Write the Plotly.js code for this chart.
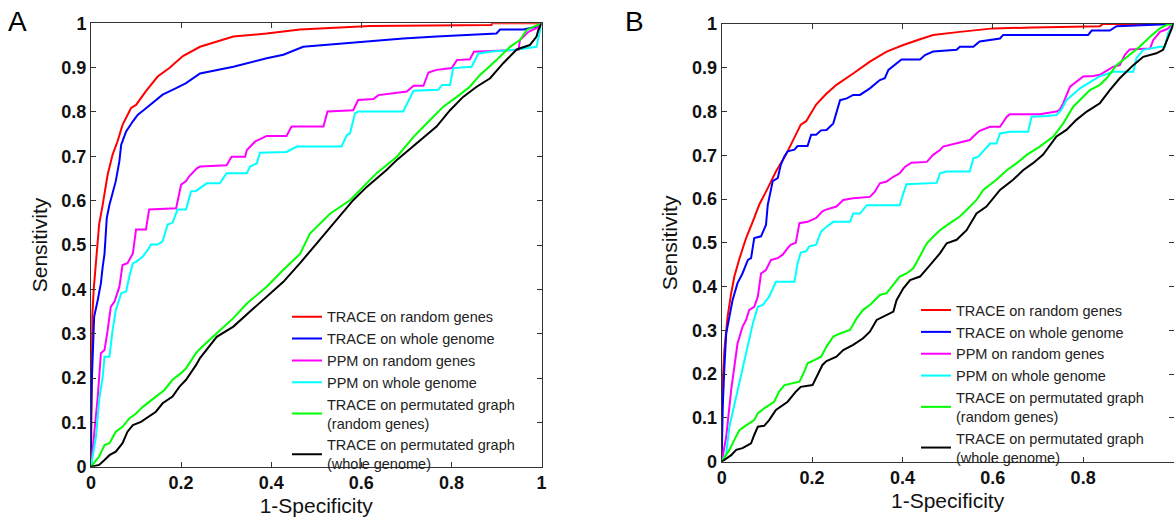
<!DOCTYPE html>
<html><head><meta charset="utf-8">
<script src="https://cdn.plot.ly/plotly-3.0.1.min.js"></script>
<style>html,body{margin:0;padding:0;background:#fff}#chart{width:1174px;height:518px}</style>
</head><body><div id="chart"></div>
<script>
const seriesNames = ["TRACE on random genes", "TRACE on whole genome", "PPM on random genes", "PPM on whole genome", "TRACE on permutated graph<br>(random genes)", "TRACE on permutated graph<br>(whole genome)"];
const seriesColors = ["#ff0000", "#0000ff", "#ff00ff", "#00ffff", "#00ff00", "#000000"];
const panelLabels = ["A", "B"];
const xTitle = "1-Specificity";
const yTitle = "Sensitivity";
const xTickVals = [0, 0.2, 0.4, 0.6, 0.8, 1];
const xTickLabels = ["0", "0.2", "0.4", "0.6", "0.8", "1"];
const yTickVals = [0, 0.1, 0.2, 0.3, 0.4, 0.5, 0.6, 0.7, 0.8, 0.9, 1];
const yTickLabels = ["0", "0.1", "0.2", "0.3", "0.4", "0.5", "0.6", "0.7", "0.8", "0.9", "1"];

// Panel A
const aRedX = [0, 0.001, 0.003, 0.006, 0.011, 0.018, 0.026, 0.037, 0.048, 0.059, 0.070, 0.089, 0.100, 0.122, 0.148, 0.174, 0.204, 0.242, 0.316, 0.39, 0.464, 0.619, 0.889, 0.89, 1];
const aRedY = [0, 0.2, 0.34, 0.4, 0.47, 0.546, 0.591, 0.659, 0.704, 0.734, 0.771, 0.809, 0.816, 0.847, 0.880, 0.899, 0.926, 0.947, 0.970, 0.977, 0.986, 0.994, 0.996, 1, 1];
const aBlueX = [0, 0, 0.002, 0.004, 0.007, 0.015, 0.022, 0.026, 0.030, 0.035, 0.041, 0.055, 0.063, 0.067, 0.078, 0.093, 0.104, 0.118, 0.137, 0.159, 0.189, 0.211, 0.242, 0.316, 0.39, 0.427, 0.471, 0.545, 0.619, 0.693, 0.767, 0.841, 0.9, 0.908, 0.96, 0.989, 1];
const aBlueY = [0, 0.12, 0.2, 0.278, 0.338, 0.376, 0.414, 0.451, 0.48, 0.561, 0.591, 0.644, 0.689, 0.726, 0.756, 0.779, 0.794, 0.805, 0.820, 0.839, 0.854, 0.865, 0.887, 0.902, 0.921, 0.929, 0.947, 0.953, 0.959, 0.966, 0.970, 0.974, 0.977, 0.986, 0.986, 0.992, 1];
const aMagX = [0, 0.007, 0.015, 0.022, 0.030, 0.037, 0.044, 0.052, 0.063, 0.070, 0.081, 0.093, 0.100, 0.122, 0.129, 0.189, 0.2, 0.211, 0.218, 0.235, 0.242, 0.301, 0.312, 0.342, 0.346, 0.364, 0.39, 0.434, 0.445, 0.516, 0.525, 0.582, 0.593, 0.627, 0.638, 0.701, 0.716, 0.738, 0.749, 0.767, 0.801, 0.812, 0.841, 0.85, 0.908, 0.949, 0.952, 0.971, 0.989, 1];
const aMagY = [0, 0.068, 0.158, 0.256, 0.263, 0.308, 0.361, 0.372, 0.406, 0.455, 0.459, 0.481, 0.535, 0.535, 0.580, 0.583, 0.636, 0.644, 0.655, 0.673, 0.677, 0.68, 0.699, 0.699, 0.714, 0.733, 0.746, 0.746, 0.767, 0.767, 0.801, 0.804, 0.827, 0.829, 0.838, 0.846, 0.859, 0.859, 0.889, 0.895, 0.899, 0.917, 0.919, 0.936, 0.938, 0.940, 0.962, 0.981, 0.989, 1];
const aCyanX = [0, 0.011, 0.018, 0.026, 0.030, 0.041, 0.048, 0.055, 0.067, 0.078, 0.085, 0.093, 0.1, 0.115, 0.126, 0.133, 0.148, 0.159, 0.170, 0.181, 0.192, 0.211, 0.222, 0.233, 0.257, 0.286, 0.301, 0.346, 0.353, 0.368, 0.375, 0.434, 0.457, 0.556, 0.568, 0.575, 0.586, 0.593, 0.693, 0.712, 0.716, 0.771, 0.779, 0.797, 0.804, 0.845, 0.86, 0.886, 0.915, 0.945, 0.989, 0.997, 1];
const aCyanY = [0, 0.068, 0.150, 0.203, 0.248, 0.248, 0.308, 0.353, 0.391, 0.395, 0.429, 0.459, 0.462, 0.474, 0.489, 0.501, 0.501, 0.508, 0.546, 0.550, 0.580, 0.580, 0.621, 0.622, 0.639, 0.639, 0.662, 0.662, 0.677, 0.684, 0.708, 0.710, 0.722, 0.722, 0.748, 0.752, 0.797, 0.801, 0.801, 0.838, 0.848, 0.850, 0.861, 0.861, 0.899, 0.902, 0.932, 0.936, 0.938, 0.941, 0.947, 0.992, 1];
const aGreenX = [0, 0.018, 0.030, 0.041, 0.055, 0.070, 0.085, 0.1, 0.115, 0.129, 0.144, 0.163, 0.181, 0.2, 0.211, 0.233, 0.242, 0.279, 0.316, 0.346, 0.39, 0.427, 0.464, 0.486, 0.531, 0.575, 0.597, 0.634, 0.679, 0.716, 0.745, 0.782, 0.812, 0.841, 0.863, 0.9, 0.930, 0.952, 0.967, 0.989, 1];
const aGreenY = [0, 0.023, 0.049, 0.053, 0.079, 0.090, 0.109, 0.120, 0.135, 0.147, 0.158, 0.173, 0.196, 0.211, 0.222, 0.256, 0.266, 0.301, 0.335, 0.368, 0.406, 0.444, 0.48, 0.526, 0.571, 0.601, 0.624, 0.662, 0.699, 0.744, 0.774, 0.812, 0.834, 0.857, 0.883, 0.917, 0.947, 0.962, 0.985, 0.994, 1];
const aBlackX = [0, 0.018, 0.03, 0.041, 0.055, 0.070, 0.081, 0.093, 0.111, 0.129, 0.144, 0.159, 0.181, 0.196, 0.211, 0.233, 0.242, 0.279, 0.316, 0.353, 0.39, 0.427, 0.464, 0.508, 0.545, 0.582, 0.612, 0.656, 0.679, 0.723, 0.767, 0.797, 0.826, 0.856, 0.886, 0.915, 0.945, 0.974, 0.989, 0.993, 1];
const aBlackY = [0, 0.004, 0.015, 0.026, 0.034, 0.053, 0.079, 0.094, 0.101, 0.113, 0.124, 0.143, 0.158, 0.180, 0.196, 0.229, 0.245, 0.293, 0.316, 0.350, 0.383, 0.417, 0.459, 0.511, 0.556, 0.601, 0.631, 0.669, 0.692, 0.729, 0.767, 0.804, 0.834, 0.857, 0.876, 0.910, 0.941, 0.951, 0.970, 0.985, 1];

// Panel B
const bRedX = [0, 0.002, 0.006, 0.013, 0.021, 0.028, 0.039, 0.054, 0.069, 0.083, 0.102, 0.120, 0.142, 0.161, 0.175, 0.187, 0.209, 0.231, 0.254, 0.291, 0.328, 0.365, 0.402, 0.439, 0.468, 0.527, 0.601, 0.689, 0.837, 0.844, 1];
const bRedY = [0, 0.179, 0.255, 0.331, 0.385, 0.423, 0.463, 0.511, 0.549, 0.587, 0.625, 0.663, 0.701, 0.740, 0.770, 0.778, 0.816, 0.840, 0.861, 0.887, 0.914, 0.937, 0.952, 0.965, 0.975, 0.982, 0.990, 0.992, 0.995, 1, 1];
const bBlueX = [0, 0.002, 0.006, 0.010, 0.017, 0.024, 0.035, 0.046, 0.058, 0.065, 0.072, 0.087, 0.098, 0.102, 0.113, 0.124, 0.131, 0.139, 0.146, 0.161, 0.168, 0.190, 0.198, 0.209, 0.220, 0.232, 0.247, 0.262, 0.277, 0.291, 0.306, 0.328, 0.350, 0.361, 0.369, 0.398, 0.439, 0.450, 0.468, 0.520, 0.527, 0.557, 0.571, 0.616, 0.623, 0.811, 0.819, 0.859, 0.874, 0.944, 1];
const bBlueY = [0, 0.118, 0.217, 0.293, 0.331, 0.369, 0.408, 0.430, 0.461, 0.465, 0.511, 0.515, 0.541, 0.587, 0.641, 0.648, 0.679, 0.698, 0.709, 0.713, 0.721, 0.721, 0.747, 0.747, 0.757, 0.758, 0.773, 0.826, 0.830, 0.838, 0.838, 0.853, 0.872, 0.876, 0.895, 0.919, 0.919, 0.929, 0.937, 0.941, 0.948, 0.948, 0.960, 0.967, 0.975, 0.975, 0.985, 0.985, 0.995, 0.998, 1];
const bMagX = [0, 0.010, 0.021, 0.028, 0.035, 0.046, 0.054, 0.061, 0.072, 0.080, 0.087, 0.098, 0.109, 0.124, 0.135, 0.146, 0.153, 0.164, 0.172, 0.190, 0.209, 0.223, 0.231, 0.254, 0.269, 0.291, 0.328, 0.339, 0.350, 0.365, 0.380, 0.394, 0.406, 0.420, 0.454, 0.468, 0.483, 0.490, 0.520, 0.549, 0.564, 0.571, 0.594, 0.616, 0.631, 0.638, 0.704, 0.741, 0.748, 0.756, 0.771, 0.800, 0.822, 0.837, 0.855, 0.866, 0.881, 0.892, 0.903, 0.948, 0.955, 0.970, 0.985, 1];
const bMagY = [0, 0.057, 0.164, 0.217, 0.270, 0.308, 0.324, 0.347, 0.354, 0.377, 0.430, 0.438, 0.461, 0.465, 0.473, 0.488, 0.496, 0.500, 0.545, 0.548, 0.557, 0.572, 0.576, 0.583, 0.598, 0.602, 0.605, 0.617, 0.636, 0.640, 0.651, 0.659, 0.674, 0.683, 0.685, 0.701, 0.712, 0.720, 0.727, 0.735, 0.750, 0.756, 0.765, 0.765, 0.788, 0.794, 0.794, 0.800, 0.804, 0.819, 0.857, 0.880, 0.881, 0.884, 0.895, 0.902, 0.906, 0.929, 0.942, 0.944, 0.963, 0.982, 0.988, 1];
const bCyanX = [0, 0.010, 0.017, 0.032, 0.046, 0.058, 0.069, 0.080, 0.091, 0.105, 0.120, 0.161, 0.168, 0.175, 0.187, 0.194, 0.209, 0.220, 0.232, 0.247, 0.284, 0.291, 0.306, 0.321, 0.394, 0.402, 0.409, 0.476, 0.483, 0.498, 0.549, 0.557, 0.568, 0.594, 0.608, 0.616, 0.638, 0.678, 0.686, 0.719, 0.741, 0.752, 0.763, 0.793, 0.837, 0.848, 0.866, 0.911, 0.918, 0.933, 0.970, 0.981, 0.988, 1];
const bCyanY = [0, 0.019, 0.080, 0.149, 0.210, 0.263, 0.316, 0.354, 0.358, 0.377, 0.411, 0.411, 0.453, 0.478, 0.481, 0.492, 0.496, 0.526, 0.537, 0.548, 0.548, 0.567, 0.567, 0.586, 0.586, 0.613, 0.634, 0.637, 0.659, 0.663, 0.663, 0.693, 0.697, 0.727, 0.727, 0.750, 0.754, 0.754, 0.788, 0.790, 0.792, 0.804, 0.826, 0.853, 0.881, 0.884, 0.891, 0.891, 0.922, 0.941, 0.948, 0.948, 0.979, 1];
const bGreenX = [0, 0.017, 0.028, 0.039, 0.050, 0.061, 0.072, 0.080, 0.094, 0.116, 0.127, 0.139, 0.157, 0.172, 0.183, 0.190, 0.205, 0.220, 0.232, 0.247, 0.262, 0.284, 0.299, 0.313, 0.328, 0.350, 0.365, 0.380, 0.394, 0.409, 0.424, 0.439, 0.454, 0.468, 0.483, 0.505, 0.527, 0.542, 0.564, 0.579, 0.608, 0.631, 0.653, 0.675, 0.704, 0.734, 0.756, 0.778, 0.793, 0.815, 0.837, 0.852, 0.874, 0.903, 0.925, 0.948, 0.970, 0.985, 1];
const bGreenY = [0, 0.027, 0.050, 0.072, 0.080, 0.088, 0.095, 0.111, 0.122, 0.137, 0.160, 0.175, 0.179, 0.183, 0.206, 0.225, 0.232, 0.240, 0.263, 0.286, 0.293, 0.301, 0.328, 0.347, 0.358, 0.381, 0.385, 0.404, 0.423, 0.430, 0.442, 0.470, 0.499, 0.514, 0.529, 0.545, 0.560, 0.575, 0.598, 0.621, 0.644, 0.666, 0.682, 0.701, 0.720, 0.743, 0.773, 0.811, 0.826, 0.849, 0.861, 0.876, 0.906, 0.929, 0.948, 0.971, 0.990, 0.998, 1];
const bBlackX = [0, 0.021, 0.032, 0.046, 0.058, 0.065, 0.072, 0.080, 0.094, 0.105, 0.120, 0.135, 0.146, 0.164, 0.175, 0.201, 0.212, 0.223, 0.232, 0.254, 0.269, 0.291, 0.313, 0.328, 0.343, 0.365, 0.380, 0.387, 0.402, 0.417, 0.439, 0.461, 0.483, 0.498, 0.520, 0.542, 0.564, 0.586, 0.616, 0.645, 0.667, 0.689, 0.711, 0.741, 0.763, 0.785, 0.808, 0.837, 0.859, 0.881, 0.911, 0.933, 0.962, 0.977, 0.988, 1];
const bBlackY = [0, 0.015, 0.027, 0.031, 0.038, 0.042, 0.061, 0.080, 0.082, 0.095, 0.118, 0.130, 0.137, 0.160, 0.171, 0.175, 0.198, 0.221, 0.230, 0.240, 0.255, 0.267, 0.282, 0.297, 0.324, 0.335, 0.343, 0.369, 0.396, 0.415, 0.423, 0.449, 0.476, 0.499, 0.507, 0.529, 0.567, 0.583, 0.621, 0.644, 0.666, 0.682, 0.701, 0.743, 0.758, 0.781, 0.800, 0.819, 0.849, 0.876, 0.906, 0.925, 0.933, 0.941, 0.971, 1];

const panelA = [[aRedX, aRedY], [aBlueX, aBlueY], [aMagX, aMagY], [aCyanX, aCyanY], [aGreenX, aGreenY], [aBlackX, aBlackY]];
const panelB = [[bRedX, bRedY], [bBlueX, bBlueY], [bMagX, bMagY], [bCyanX, bCyanY], [bGreenX, bGreenY], [bBlackX, bBlackY]];

const FONT = "Liberation Sans, Arial, sans-serif";
const traces = [];
panelA.forEach((s, i) => traces.push({
  x: s[0], y: s[1], type: 'scatter', mode: 'lines', name: seriesNames[i],
  line: {color: seriesColors[i], width: 2}, xaxis: 'x', yaxis: 'y', legend: 'legend'
}));
panelB.forEach((s, i) => traces.push({
  x: s[0], y: s[1], type: 'scatter', mode: 'lines', name: seriesNames[i],
  line: {color: seriesColors[i], width: 2}, xaxis: 'x2', yaxis: 'y2', legend: 'legend2'
}));

const bold = arr => arr.map(t => '<b>' + t + '</b>');
function axis(extra) {
  return Object.assign({
    range: [0, 1], showgrid: false, zeroline: false, showline: true, mirror: 'ticks',
    linecolor: '#333', linewidth: 1, ticks: 'inside', ticklen: 5, tickcolor: '#333',
    tickmode: 'array',
    tickfont: {family: FONT, size: 18, color: '#111'},
    fixedrange: true
  }, extra);
}
const legendStyle = {
  font: {family: FONT, size: 14.5, color: '#222'}, bgcolor: 'rgba(0,0,0,0)', borderwidth: 0,
  xanchor: 'left', yanchor: 'top', tracegroupgap: 0
};
const titleFont = {family: FONT, size: 21, color: '#111'};

const layout = {
  width: 1174, height: 518, margin: {l: 0, r: 0, t: 0, b: 0},
  paper_bgcolor: '#fff', plot_bgcolor: '#fff', showlegend: true,
  font: {family: FONT},
  xaxis: axis({domain: [91/1174, 541.5/1174], anchor: 'y', tickvals: xTickVals, ticktext: bold(xTickLabels),
    title: {text: xTitle, font: titleFont, standoff: 6}}),
  yaxis: axis({domain: [51.3/518, 494.7/518], anchor: 'x', tickvals: yTickVals, ticktext: bold(yTickLabels),
    title: {text: yTitle, font: titleFont, standoff: 8}}),
  xaxis2: axis({domain: [721.7/1174, 1173.5/1174], anchor: 'y2', tickvals: xTickVals, ticktext: bold(xTickLabels),
    title: {text: xTitle, font: titleFont, standoff: 6}}),
  yaxis2: axis({domain: [56.3/518, 494/518], anchor: 'x2', tickvals: yTickVals, ticktext: bold(yTickLabels),
    title: {text: yTitle, font: titleFont, standoff: 8}}),
  legend: Object.assign({x: 287/1174, y: 1 - 300.8/518}, legendStyle),
  legend2: Object.assign({x: 916/1174, y: 1 - 294.1/518}, legendStyle),
  annotations: [
    {text: panelLabels[0], xref: 'paper', yref: 'paper', x: 6/1174, y: 1 - 4/518, xanchor: 'left', yanchor: 'top', showarrow: false, font: {family: FONT, size: 28, color: '#000'}},
    {text: panelLabels[1], xref: 'paper', yref: 'paper', x: 623/1174, y: 1 - 4/518, xanchor: 'left', yanchor: 'top', showarrow: false, font: {family: FONT, size: 28, color: '#000'}}
  ]
};
Plotly.newPlot('chart', traces, layout, {displayModeBar: false, staticPlot: true});
</script>
</body></html>
